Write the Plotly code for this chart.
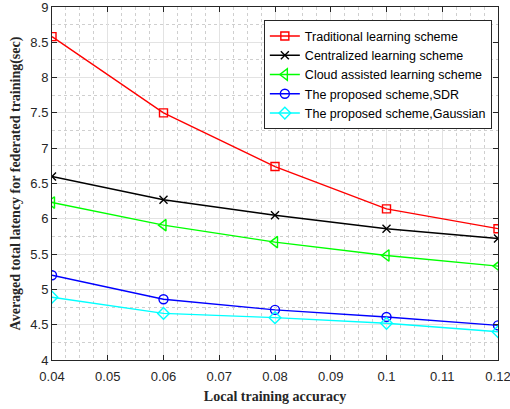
import plotly.graph_objects as go

# Local training accuracy (x) and averaged total latency (sec) per scheme
accuracy = [0.04, 0.06, 0.08, 0.10, 0.12]
traditional = [8.58, 7.50, 6.74, 6.14, 5.86]
centralized = [6.60, 6.27, 6.05, 5.86, 5.72]
cloud_assisted = [6.23, 5.91, 5.67, 5.48, 5.33]
proposed_sdr = [5.20, 4.86, 4.71, 4.61, 4.49]
proposed_gaussian = [4.89, 4.66, 4.60, 4.52, 4.40]

x_ticks = [0.04, 0.05, 0.06, 0.07, 0.08, 0.09, 0.10, 0.11, 0.12]
x_tick_text = ["0.04", "0.05", "0.06", "0.07", "0.08", "0.09", "0.1", "0.11", "0.12"]
y_ticks = [4, 4.5, 5, 5.5, 6, 6.5, 7, 7.5, 8, 8.5, 9]
y_tick_text = ["4", "4.5", "5", "5.5", "6", "6.5", "7", "7.5", "8", "8.5", "9"]

series = [
    ("Traditional learning scheme", traditional, "#ff0000", "square-open", 8),
    ("Centralized learning scheme", centralized, "#000000", "x-thin-open", 8),
    ("Cloud assisted learning scheme", cloud_assisted, "#00ff00", "triangle-left-open", 10),
    ("The proposed scheme,SDR", proposed_sdr, "#0000ff", "circle-open", 9),
    ("The proposed scheme,Gaussian", proposed_gaussian, "#00ffff", "diamond-open", 9),
]

fig = go.Figure()
for name, vals, color, symbol, size in series:
    fig.add_trace(go.Scatter(
        x=accuracy, y=vals, name=name, mode="lines+markers",
        line=dict(color=color, width=1.4),
        marker=dict(symbol=symbol, size=size, color=color,
                    line=dict(color=color, width=1.4)),
    ))

axis_common = dict(
    showline=True, linecolor="#262626", linewidth=1, mirror="ticks",
    ticks="inside", ticklen=5, tickcolor="#262626",
    showgrid=True, gridcolor="#e3e3e3", gridwidth=1,
    zeroline=False, ticklabeloverflow="allow", automargin=False,
    tickfont=dict(family="Liberation Sans, Arial, sans-serif", size=13, color="#262626"),
)

fig.update_xaxes(
    **axis_common,
    range=[0.04, 0.1200001], tickvals=x_ticks, ticktext=x_tick_text,
    ticklabelstandoff=4,
    minor=dict(dtick=0.0025, showgrid=True, griddash="dot", gridcolor="#cfcfcf", ticks=""),
    title=dict(text="<b>Local training accuracy</b>", standoff=8,
               font=dict(family="Liberation Serif, Times New Roman, serif", size=14, color="#262626")),
)
fig.update_yaxes(
    **axis_common,
    range=[4, 9.000001], tickvals=y_ticks, ticktext=y_tick_text,
    minor=dict(dtick=0.25, showgrid=True, griddash="dot", gridcolor="#cfcfcf", ticks=""),
    title=dict(text="<b>Averaged total latency for federated training(sec)</b>", standoff=6,
               font=dict(family="Liberation Serif, Times New Roman, serif", size=14, color="#262626")),
)

fig.update_layout(
    width=510, height=409,
    margin=dict(l=52, r=12, t=7, b=49),
    paper_bgcolor="white", plot_bgcolor="white",
    legend=dict(
        x=0.475, y=0.962, xanchor="left", yanchor="top",
        bgcolor="white", bordercolor="#262626", borderwidth=1,
        font=dict(family="Liberation Sans, Arial, sans-serif", size=12.5, color="#000000"),
        tracegroupgap=0, itemwidth=30,
    ),
)

fig.write_html("out.html")
